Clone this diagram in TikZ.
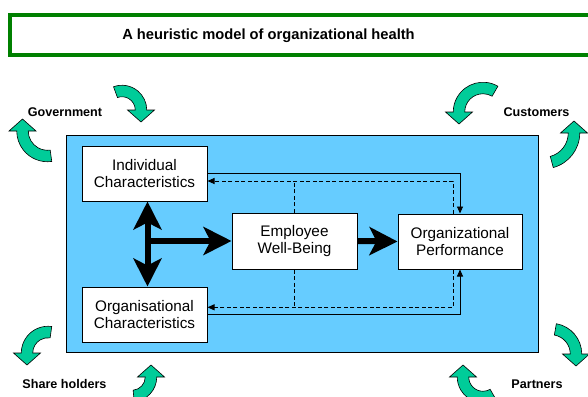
\documentclass[tikz,border=0pt]{standalone}
\usepackage{fontspec}
\setmainfont{Liberation Sans}
\usetikzlibrary{arrows.meta}
\definecolor{skyb}{HTML}{66CCFF}
\definecolor{titlegreen}{HTML}{008000}
\definecolor{curvygreen}{HTML}{00CC99}
% curved arrow: cx cy rotation xscale radius span
\newcommand{\carrow}[6]{%
\begin{scope}[shift={(#1,#2)}, rotate=#3, xscale=#4]
\pgfmathsetmacro\carO{#5+5.75}
\pgfmathsetmacro\carI{#5-5.75}
\pgfmathsetmacro\carHO{#5+13.5}
\pgfmathsetmacro\carHI{#5-13.5}
\filldraw[curvyarrow] (#6:\carO pt) arc[start angle=#6, end angle=0, radius=\carO pt]
  -- (\carHO pt,0pt) -- (#5pt,-12pt) -- (\carHI pt,0pt) -- (\carI pt,0pt)
  arc[start angle=0, end angle=#6, radius=\carI pt] -- cycle;
\end{scope}}
\begin{document}
\begin{tikzpicture}[x=1pt,y=-1pt,
 box/.style={draw=black, line width=1pt, fill=white, minimum width=125pt, minimum height=55pt, inner sep=0pt, align=center, font=\fontsize{15.3}{17.5}\selectfont},
 bigarrow/.style={line width=6pt, -{Stealth[length=28pt,width=28pt,inset=7pt]}},
 bigdouble/.style={line width=6pt, {Stealth[length=28pt,width=28pt,inset=7pt]}-{Stealth[length=28pt,width=28pt,inset=7pt]}},
 thinline/.style={line width=0.9pt, -{Triangle[length=7pt,width=6pt]}},
 dashline/.style={thinline, dash pattern=on 4pt off 2.5pt},
 lbl/.style={font=\fontsize{12.6}{14}\selectfont\bfseries, inner sep=0pt},
 curvyarrow/.style={fill=curvygreen, draw=black, line width=0.6pt}]
\useasboundingbox (0,0) rectangle (588,396);
\clip (0,0) rectangle (588,396);
\fill[white] (0,0) rectangle (588,396);
% title
\draw[titlegreen, line width=4.3pt] (9.7,14.7) rectangle (600,54.7);
\node[font=\fontsize{14.7}{17}\selectfont\bfseries, inner sep=0pt] (title) at (268.5,36) {A heuristic model of organizational health};
% blue area
\draw[fill=skyb, line width=0.9pt] (66,135) rectangle (538,352);
% boxes
\node[box] (IC) at (144.5,173.5) {Individual\\Characteristics};
\node[box] (OC) at (144.5,314.5) {Organisational\\Characteristics};
\node[box, minimum height=56pt] (EWB) at (294.5,241) {Employee\\Well-Being};
\node[box, minimum width=124pt] (OP) at (460,241.5) {Organizational\\Performance};
% thin connectors
\draw[thinline] (IC.east) -- (OP.north |- IC.east) -- (OP.north);
\draw[thinline] (OC.east) -- (OP.south |- OC.east) -- (OP.south);
\coordinate (ICd) at ([yshift=-7.5pt]IC.east);
\coordinate (OCd) at ([yshift=7.2pt]OC.east);
\coordinate (OPtd) at ([xshift=-7pt]OP.north);
\coordinate (OPbd) at ([xshift=-7pt]OP.south);
\draw[dashline] (OPtd) -- (OPtd |- ICd) -- (ICd);
\draw[dashline,-] (EWB.north) -- (EWB.north |- ICd);
\draw[dashline] (OPbd) -- (OPbd |- OCd) -- (OCd);
\draw[dashline,-] (EWB.south) -- (EWB.south |- OCd);
% thick arrows
\coordinate (J) at (147.5,241);
\draw[bigarrow] (J) -- (EWB.west);
\draw[bigdouble] ([xshift=3pt]IC.south) -- ([xshift=3pt]OC.north);
\draw[bigarrow] (EWB.east) -- (OP.west);
% labels
\node[lbl] (gov) at (65,112) {Government};
\node[lbl] (cus) at (536.5,112) {Customers};
\node[lbl] (sh) at (64.5,384) {Share holders};
\node[lbl] (par) at (537,384) {Partners};
% curved arrows
\carrow{122}{110}{0}{1}{19}{110}
\carrow{47.5}{131}{180}{1}{25}{98}
\carrow{483}{112}{0}{-1}{24}{120}
\carrow{544}{133}{180}{-1}{30}{75}
\carrow{48}{353}{0}{-1}{21}{98}
\carrow{132}{377}{180}{-1}{19}{85}
\carrow{551}{354}{0}{1}{25}{80}
\carrow{483}{377}{180}{1}{20}{120}
\end{tikzpicture}
\end{document}
